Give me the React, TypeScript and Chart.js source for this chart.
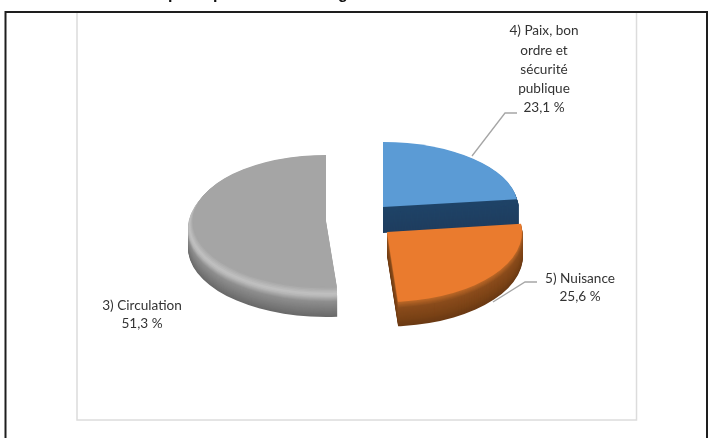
import React, { useEffect, useRef } from "react";
import { Chart, registerables } from "chart.js";

Chart.register(...registerables);

const categories = ["4) Paix, bon ordre et sécurité publique", "5) Nuisance", "3) Circulation"];
const shares = [23.1, 25.6, 51.3];
const shareLabels = ["23,1 %", "25,6 %", "51,3 %"];
const labelLines = [
  ["4) Paix, bon", "ordre et", "sécurité", "publique"],
  ["5) Nuisance"],
  ["3) Circulation"],
];
const colors = ["#5b9bd5", "#ea7b2e", "#a5a5a5"];

// display-only styling of each slice: shift from the pie centre, radii, extrusion
const sliceStyles = [
  { dx: 26, dy: -18, rx: 135, ry: 65, depth: 26, bulge: 2, ramp: [[0, "#1f4468"], [1, "#1f3d5f"]] },
  { dx: 30, dy: 7, rx: 135, ry: 70, depth: 24, bulge: 1, ramp: [[0, "#c06a28"], [0.25, "#8a4c1c"], [0.7, "#7a4216"], [1, "#6b3a14"]] },
  { dx: -31, dy: -4, rx: 133, ry: 66, depth: 27, bulge: 5, ramp: [[0, "#a0a0a0"], [0.2, "#c2c2c2"], [0.45, "#8e8e8e"], [1, "#6a6a6a"]] },
];
const drawOrder = [0, 1, 2];
const labelStyles = [
  { x: 544, y: 31, gap: 19.2, leader: [[472, 156], [505, 113], [517, 113]] },
  { x: 580, y: 279, gap: 18, leader: [[493, 302], [525, 282], [537, 282]] },
  { x: 142, y: 306, gap: 18, leader: [] },
];
const titleGlyphs = [["p", 173], ["p", 218], ["g", 343]];

const FONT = "13.6px Lato";

function hex(c: string) {
  return [1, 3, 5].map((i) => parseInt(c.slice(i, i + 2), 16));
}
function rampColor(ramp: any[], t: number) {
  for (let i = 1; i < ramp.length; i++) {
    if (t <= ramp[i][0]) {
      const [t0, c0] = ramp[i - 1];
      const [t1, c1] = ramp[i];
      const f = (t - t0) / (t1 - t0 || 1);
      const a = hex(c0);
      const b = hex(c1);
      return `rgb(${a.map((v, k) => Math.round(v + (b[k] - v) * f)).join(",")})`;
    }
  }
  return ramp[ramp.length - 1][1];
}

const pie3d = {
  id: "pie3d",
  beforeDraw(chart: any) {
    const { ctx } = chart;
    ctx.save();
    ctx.fillStyle = "#fff";
    ctx.fillRect(0, 0, 713, 438);
    ctx.strokeStyle = "#dcdcdc";
    ctx.lineWidth = 1.5;
    ctx.strokeRect(77, 12, 559.5, 408);
    ctx.strokeStyle = "#1e1e1e";
    ctx.lineWidth = 2;
    ctx.beginPath();
    ctx.moveTo(5.5, 438);
    ctx.lineTo(5.5, 12);
    ctx.lineTo(707, 12);
    ctx.lineTo(707, 438);
    ctx.stroke();
    ctx.fillStyle = "#111";
    ctx.font = "bold 16px 'Liberation Sans'";
    ctx.textAlign = "center";
    ctx.textBaseline = "alphabetic";
    titleGlyphs.forEach(([g, x]) => ctx.fillText(g as string, x as number, -1));
    ctx.restore();
  },
  beforeDatasetsDraw(chart: any) {
    const { ctx } = chart;
    const arcs = chart.getDatasetMeta(0).data;
    ctx.save();
    ctx.filter = "blur(0.7px)";
    drawOrder.forEach((i) => {
      const el = arcs[i];
      const s = sliceStyles[i];
      const R = el.outerRadius;
      const wedge = (y: number, extra: number, fill: string) => {
        ctx.save();
        ctx.translate(el.x + s.dx, el.y + s.dy + y);
        ctx.scale((s.rx + extra) / R, (s.ry + extra * 0.6) / R);
        ctx.beginPath();
        ctx.moveTo(0, 0);
        ctx.arc(0, 0, R, el.startAngle, el.endAngle);
        ctx.closePath();
        ctx.fillStyle = fill;
        ctx.fill();
        ctx.restore();
      };
      for (let d = s.depth; d > 0; d -= 1) {
        const t = d / s.depth;
        wedge(d, s.bulge * Math.min(1, t * 4), rampColor(s.ramp, t));
      }
      wedge(0, 0, colors[i]);
    });
    ctx.restore();
    return false;
  },
  afterDraw(chart: any) {
    const { ctx } = chart;
    ctx.save();
    ctx.strokeStyle = "#a6a6a6";
    ctx.lineWidth = 1.3;
    labelStyles.forEach((l) => {
      if (!l.leader.length) return;
      ctx.beginPath();
      l.leader.forEach(([x, y], k) => (k ? ctx.lineTo(x, y) : ctx.moveTo(x, y)));
      ctx.stroke();
    });
    ctx.fillStyle = "#333";
    ctx.font = FONT;
    ctx.textAlign = "center";
    ctx.textBaseline = "middle";
    labelStyles.forEach((l, i) => {
      const lines = [...labelLines[i], shareLabels[i]];
      lines.forEach((t, k) => ctx.fillText(t, l.x, l.y + k * l.gap));
    });
    ctx.restore();
  },
};

export default function App() {
  const ref = useRef<HTMLCanvasElement>(null);
  useEffect(() => {
    document.body.style.margin = "0";
    const chart = new Chart(ref.current!, {
      type: "pie",
      data: {
        labels: categories,
        datasets: [{ data: shares, backgroundColor: colors, borderWidth: 0 }],
      },
      options: {
        responsive: false,
        animation: false,
        layout: { padding: { left: 217, right: 216, top: 85, bottom: 73 } },
        plugins: { legend: { display: false }, tooltip: { enabled: false }, title: { display: false } },
      },
      plugins: [pie3d],
    });
    return () => chart.destroy();
  }, []);
  return <canvas ref={ref} width={713} height={438} style={{ display: "block", width: 713, height: 438 }} />;
}
